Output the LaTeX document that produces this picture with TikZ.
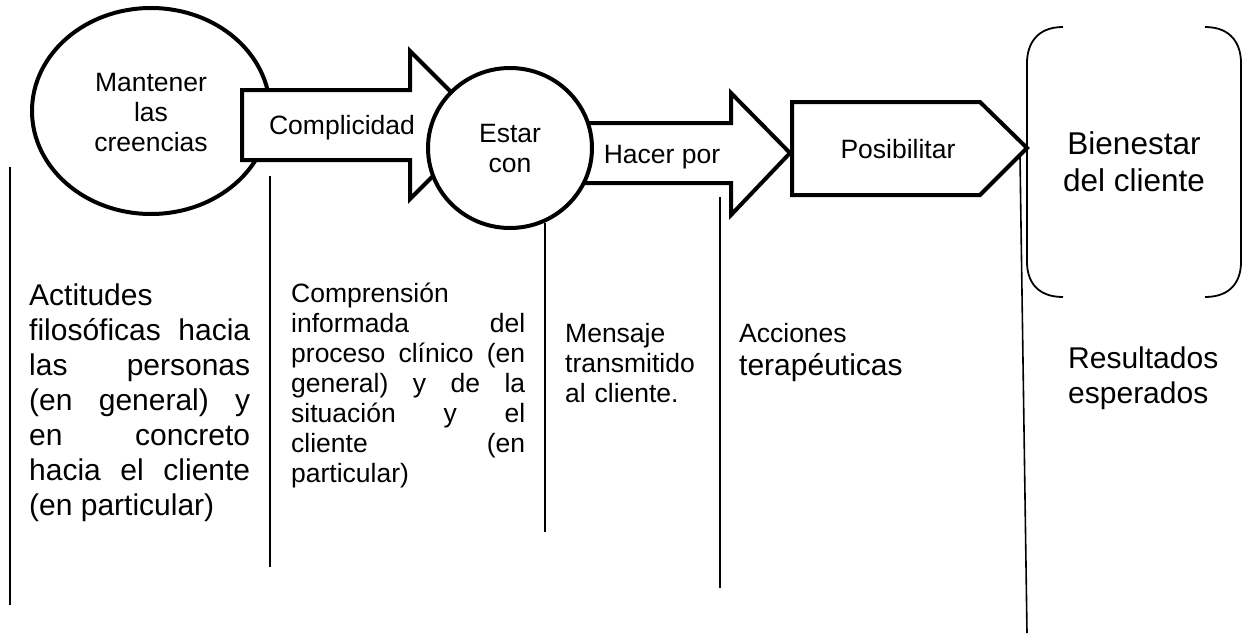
\documentclass[tikz,border=0pt]{standalone}
\usepackage{fontspec}
\setmainfont{Liberation Sans}
\newcommand\lnA{\rule{0pt}{1em}}
\hbadness=10000
\hyphenpenalty=10000
\exhyphenpenalty=10000
\begin{document}
\begin{tikzpicture}[x=1pt,y=-1pt,
  thickshape/.style={line width=4pt, line join=miter, draw=black, fill=white},
  thinline/.style={line width=1.6pt, draw=black},
  bracketline/.style={line width=1.8pt, draw=black},
  lbl/.style={inner sep=0pt, align=center, font=\fontsize{26.5}{30}\selectfont},
  body/.style={inner sep=0pt, anchor=north west, align=justify, font=\fontsize{26.5}{30}\selectfont}]
\useasboundingbox[fill=white] (0,0) rectangle (1243,637);

% shapes
\draw[thickshape] (151,111) ellipse [x radius=119, y radius=103];
\draw[thickshape] (242,90) -- (410,90) -- (410,51) -- (484,125) -- (410,199) -- (410,160) -- (242,160) -- cycle;
\draw[thickshape] (560,123) -- (731,123) -- (731,93) -- (790,153) -- (731,215) -- (731,183) -- (560,183) -- cycle;
\draw[thickshape] (510,148) ellipse [x radius=82, y radius=80];
\draw[thickshape] (792,102) -- (980,102) -- (1027,148) -- (980,195) -- (792,195) -- cycle;

% brackets
\draw[bracketline] (1063,27) .. controls (1036,27) and (1027,45) .. (1027,63) -- (1027,262) .. controls (1027,280) and (1036,297) .. (1063,297);
\draw[bracketline] (1205,27) .. controls (1232,27) and (1241,45) .. (1241,63) -- (1241,262) .. controls (1241,280) and (1232,297) .. (1205,297);

% separator lines
\coordinate (s1a) at (10,167);   \coordinate (s1b) at (10,605);
\coordinate (s2a) at (270,176);  \coordinate (s2b) at (270,567);
\coordinate (s3a) at (545,223);  \coordinate (s3b) at (545,532);
\coordinate (s4a) at (720,197);  \coordinate (s4b) at (720,588);
\coordinate (s5a) at (1020,157); \coordinate (s5b) at (1027,633);
\draw[thinline] (s1a) -- (s1b);
\draw[thinline] (s2a) -- (s2b);
\draw[thinline] (s3a) -- (s3b);
\draw[thinline] (s4a) -- (s4b);
\draw[thinline] (s5a) -- (s5b);

% labels in shapes
\node[lbl, anchor=north] (mant) at (151,65.2) {\lnA Mantener\\las\\creencias};
\node[lbl, anchor=base] (compl) at (342,134) {Complicidad};
\node[lbl, anchor=north] (estar) at (510,115.5) {\lnA Estar\\con};
\node[lbl, anchor=base] (hacer) at (662,163) {Hacer por};
\node[lbl, anchor=base] (posib) at (898,158) {Posibilitar};
\node[lbl, anchor=north, font=\fontsize{31.5}{37}\selectfont] (bien) at (1134,122.5) {\lnA Bienestar\\del cliente};

% lower texts
\node[body, text width=221pt, font=\fontsize{30}{35}\selectfont] (actit) at (29,275)
  {\lnA Actitudes\linebreak filosóficas hacia\linebreak las personas\linebreak (en general) y\linebreak en concreto\linebreak hacia el cliente\linebreak (en particular)};
\node[body, text width=234pt] (compr) at (291,275.5)
  {\lnA Comprensión\linebreak informada del\linebreak proceso clínico (en\linebreak general) y de la\linebreak situación y el\linebreak cliente (en\linebreak particular)};
\node[body, text width=140pt, align=left] (mens) at (565,315.5)
  {\lnA Mensaje\\transmitido\\al cliente.};
\node[body, text width=200pt, align=left] (acc) at (739,315.5)
  {\lnA Acciones\par\fontsize{30}{33}\selectfont terapéuticas\par};
\node[body, text width=160pt, align=left, font=\fontsize{30}{35}\selectfont] (result) at (1068,338)
  {\lnA Resultados\\esperados};
\end{tikzpicture}
\end{document}
